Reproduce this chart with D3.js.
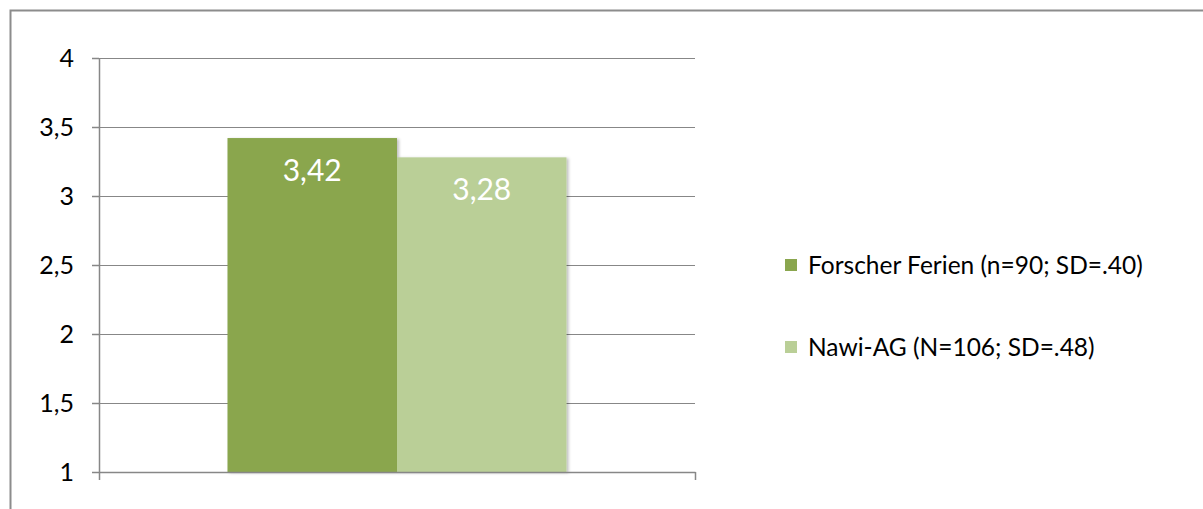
<!DOCTYPE html>
<html>
<head>
<meta charset="utf-8">
<script src="https://cdn.jsdelivr.net/npm/d3@7"></script>
<style>
  body { margin: 0; background: #fff; }
  svg { display: block; font-family: Lato, "Open Sans", sans-serif; }
</style>
</head>
<body>
<div id="chart-wrapper"></div>
<script>
// data
var categories = [''];
var series_names = ['Forscher Ferien (n=90; SD=.40)', 'Nawi-AG (N=106; SD=.48)'];
var series_values = [3.42, 3.28];
var series_colors = ['#8aa64e', '#bacf97'];
var y_ticks = [1, 1.5, 2, 2.5, 3, 3.5, 4];

var total_width = 1203;
var total_height = 509;
var plot = {left: 99, right: 695, top: 58, bottom: 472};
var font = 'Lato, "Open Sans", sans-serif';

var svg = d3.select('#chart-wrapper').append('svg')
    .attr('width', total_width)
    .attr('height', total_height);

// outer frame, runs off the right and bottom like the original crop
svg.append('rect')
    .attr('x', 10.5).attr('y', 10.5)
    .attr('width', 1300).attr('height', 600)
    .attr('fill', '#fff')
    .attr('stroke', '#8c8c8c')
    .attr('stroke-width', 2);

var defs = svg.append('defs');
var shadow = defs.append('filter')
    .attr('id', 'bar-shadow')
    .attr('x', '-10%').attr('y', '-10%')
    .attr('width', '130%').attr('height', '130%');
shadow.append('feDropShadow')
    .attr('dx', 2).attr('dy', 1)
    .attr('stdDeviation', 1.5)
    .attr('flood-color', '#000')
    .attr('flood-opacity', 0.25);

var locale = d3.formatLocale({decimal: ',', thousands: '.', grouping: [3], currency: ['', '€']});
var fmt_tick = locale.format('~g');
var fmt_value = locale.format('.2f');

var scale_y = d3.scaleLinear()
    .domain([1, 4])
    .range([plot.bottom, plot.top]);

var scale_x0 = d3.scaleBand()
    .domain(categories)
    .range([plot.left, plot.right])
    .paddingInner(0)
    .paddingOuter(0.379);

var scale_x1 = d3.scaleBand()
    .domain(series_names)
    .range([0, scale_x0.bandwidth()])
    .padding(0);

// gridlines
var gridlines = d3.axisLeft(scale_y)
    .tickValues(y_ticks)
    .tickSize(-(plot.right - plot.left))
    .tickFormat('');
svg.append('g')
    .attr('class', 'gridlines')
    .attr('transform', 'translate(' + plot.left + ',0)')
    .call(gridlines)
    .call(function(g) {
        g.select('.domain').remove();
        g.selectAll('line').attr('stroke', '#878787').attr('stroke-width', 1.2);
    });

// bars
var groups = svg.selectAll('g.bar-group')
    .data(categories)
    .enter()
  .append('g')
    .attr('class', 'bar-group')
    .attr('transform', function(d) { return 'translate(' + scale_x0(d) + ',0)'; });

var bars = groups.selectAll('g.bar')
    .data(series_names.map(function(name, i) {
        return {name: name, value: series_values[i], color: series_colors[i]};
    }))
    .enter()
  .append('g')
    .attr('class', 'bar');

bars.append('rect')
    .attr('x', function(d) { return scale_x1(d.name); })
    .attr('y', function(d) { return scale_y(d.value); })
    .attr('width', scale_x1.bandwidth())
    .attr('height', function(d) { return scale_y(1) - scale_y(d.value); })
    .attr('fill', function(d) { return d.color; })
    .attr('filter', 'url(#bar-shadow)');

bars.append('text')
    .attr('x', function(d) { return scale_x1(d.name) + scale_x1.bandwidth() / 2; })
    .attr('y', function(d) { return scale_y(d.value) + 32; })
    .attr('dy', '0.35em')
    .attr('text-anchor', 'middle')
    .attr('fill', '#fff')
    .style('font-family', font)
    .style('font-size', '30px')
    .text(function(d) { return fmt_value(d.value); });

// y axis with labels
var axis_y = d3.axisLeft(scale_y)
    .tickValues(y_ticks)
    .tickSizeInner(7)
    .tickSizeOuter(0)
    .tickPadding(18)
    .tickFormat(fmt_tick);
svg.append('g')
    .attr('id', 'y-axis')
    .attr('transform', 'translate(' + plot.left + ',0)')
    .call(axis_y)
    .attr('font-family', font)
    .call(function(g) {
        g.selectAll('line, path').attr('stroke', '#878787').attr('stroke-width', 1.5);
        g.selectAll('text').style('font-size', '25px').attr('fill', '#000');
    });

// x axis: only the category boundary ticks
var scale_edges = d3.scaleLinear().domain([0, 1]).range([plot.left, plot.right]);
var axis_x = d3.axisBottom(scale_edges)
    .tickValues([0, 1])
    .tickSizeInner(8)
    .tickSizeOuter(0)
    .tickFormat('');
svg.append('g')
    .attr('id', 'x-axis')
    .attr('transform', 'translate(0,' + plot.bottom + ')')
    .call(axis_x)
    .call(function(g) {
        g.selectAll('line, path').attr('stroke', '#878787').attr('stroke-width', 1.5);
    });

// legend
var legend = svg.append('g')
    .attr('class', 'legend')
    .attr('transform', 'translate(785,265)');
var legend_items = legend.selectAll('g')
    .data(series_names)
    .enter()
  .append('g')
    .attr('transform', function(d, i) { return 'translate(0,' + (i * 82) + ')'; });
legend_items.append('rect')
    .attr('x', 0).attr('y', -6)
    .attr('width', 12).attr('height', 12)
    .attr('fill', function(d, i) { return series_colors[i]; });
legend_items.append('text')
    .attr('x', 23)
    .attr('dy', '0.35em')
    .style('font-family', font)
    .style('font-size', '24.5px')
    .attr('fill', '#000')
    .text(function(d) { return d; });
</script>
</body>
</html>
